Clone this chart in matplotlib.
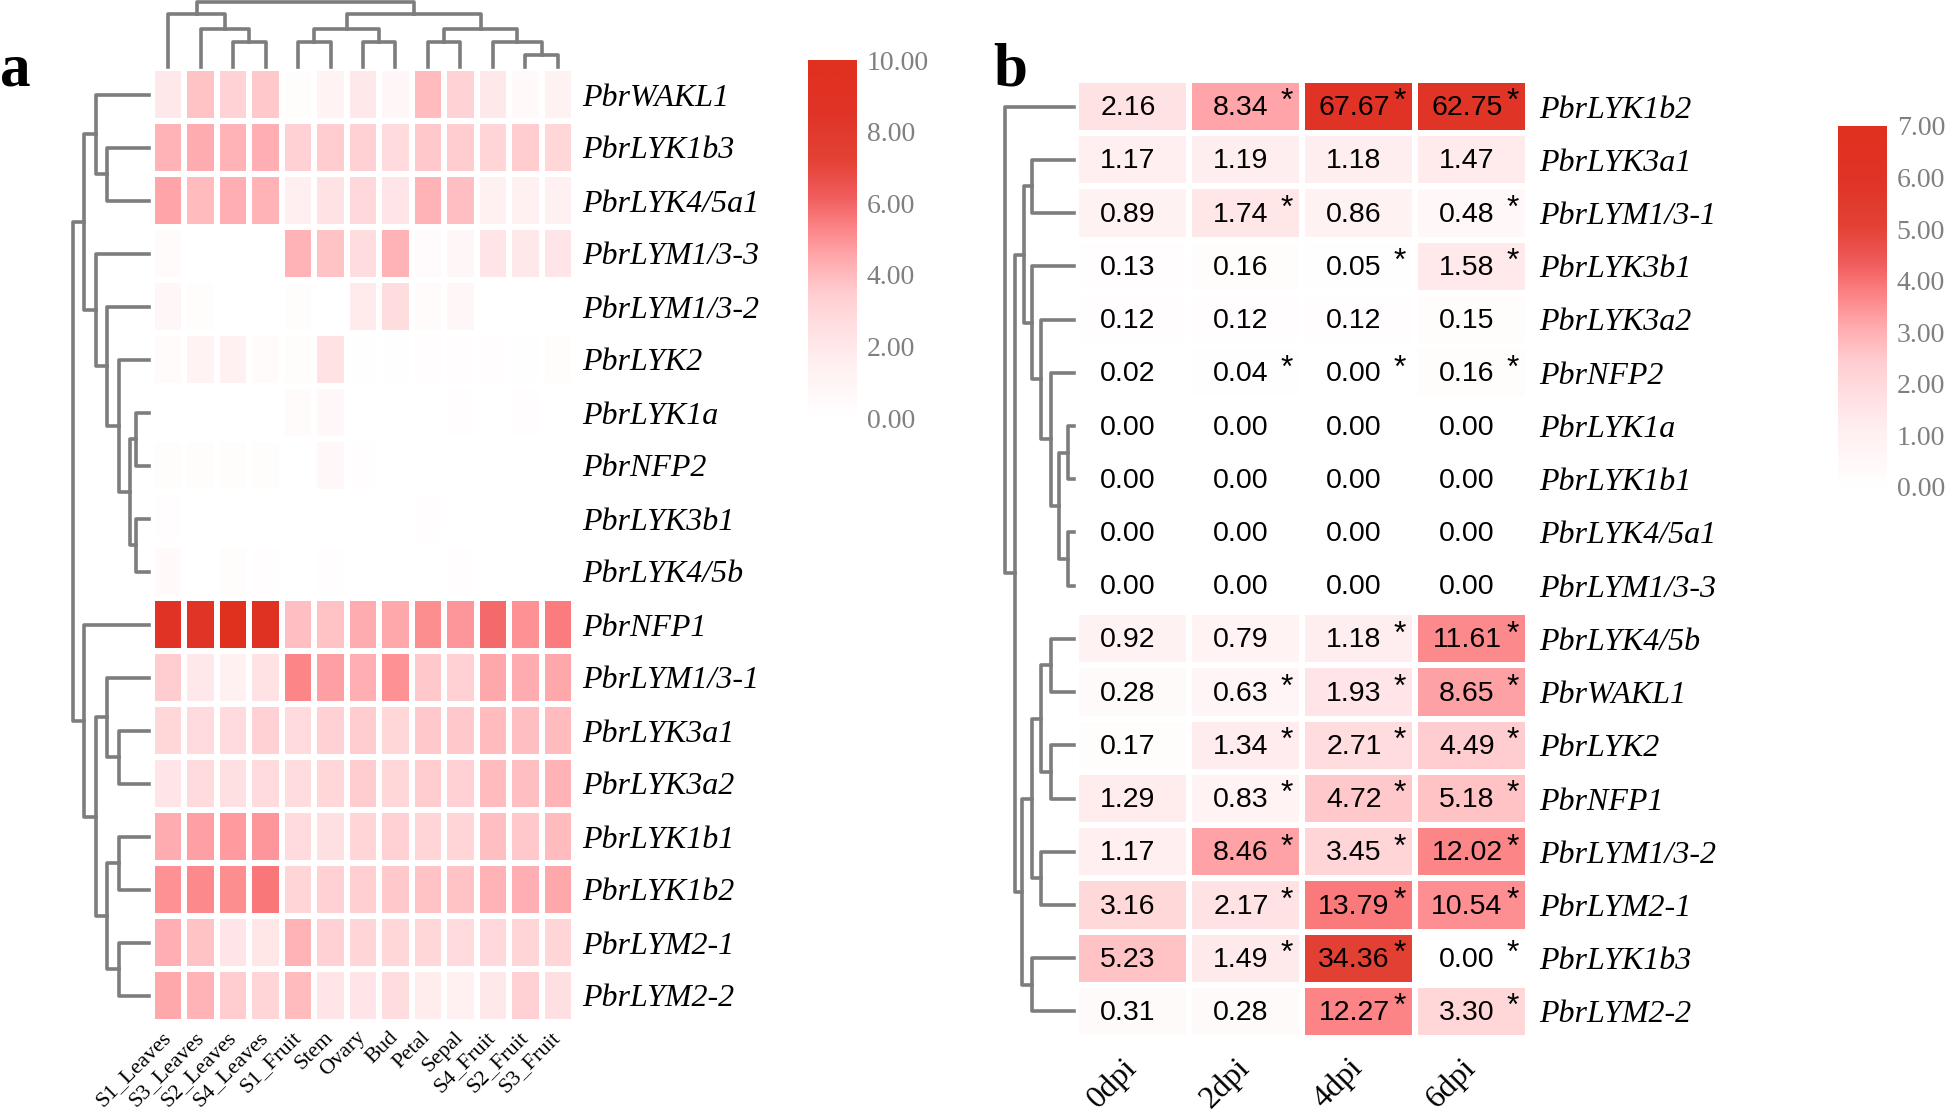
import numpy as np
import matplotlib.pyplot as plt
from matplotlib.colors import LinearSegmentedColormap

SERIF = "Liberation Serif"
SANS = "Liberation Sans"

# ---------------- data: panel a (tissue expression, log2 scale 0-10) ----------------
genes_a = ["PbrWAKL1", "PbrLYK1b3", "PbrLYK4/5a1", "PbrLYM1/3-3", "PbrLYM1/3-2",
           "PbrLYK2", "PbrLYK1a", "PbrNFP2", "PbrLYK3b1", "PbrLYK4/5b",
           "PbrNFP1", "PbrLYM1/3-1", "PbrLYK3a1", "PbrLYK3a2", "PbrLYK1b1",
           "PbrLYK1b2", "PbrLYM2-1", "PbrLYM2-2"]
tissues = ["S1_Leaves", "S3_Leaves", "S2_Leaves", "S4_Leaves", "S1_Fruit", "Stem",
           "Ovary", "Bud", "Petal", "Sepal", "S4_Fruit", "S2_Fruit", "S3_Fruit"]
expr_a = np.array([
    [2.0, 3.8, 3.2, 3.6, 0.3, 1.2, 2.0, 0.9, 4.0, 3.2, 2.0, 0.6, 1.3],
    [4.2, 4.4, 4.2, 4.3, 3.3, 3.5, 3.3, 2.8, 3.6, 3.5, 3.1, 3.5, 3.0],
    [4.6, 4.0, 4.3, 4.2, 1.6, 2.4, 2.9, 2.2, 4.2, 3.9, 1.4, 1.4, 1.4],
    [0.4, 0.0, 0.0, 0.0, 4.2, 3.8, 2.7, 4.2, 0.5, 0.9, 2.2, 2.0, 2.2],
    [0.9, 0.3, 0.0, 0.0, 0.3, 0.0, 1.8, 2.7, 0.4, 0.9, 0.0, 0.0, 0.0],
    [0.4, 1.2, 1.5, 0.4, 0.3, 2.4, 0.1, 0.1, 0.2, 0.2, 0.2, 0.1, 0.3],
    [0.0, 0.0, 0.0, 0.0, 0.4, 0.8, 0.0, 0.0, 0.0, 0.2, 0.0, 0.2, 0.0],
    [0.3, 0.3, 0.3, 0.3, 0.0, 0.8, 0.2, 0.0, 0.0, 0.0, 0.0, 0.0, 0.0],
    [0.2, 0.0, 0.0, 0.0, 0.0, 0.0, 0.0, 0.0, 0.2, 0.0, 0.0, 0.0, 0.0],
    [0.6, 0.0, 0.3, 0.2, 0.0, 0.2, 0.0, 0.0, 0.0, 0.2, 0.0, 0.0, 0.0],
    [9.0, 8.6, 9.8, 9.2, 3.9, 3.8, 4.4, 4.5, 5.1, 4.9, 5.9, 5.0, 5.5],
    [3.5, 2.0, 1.5, 2.4, 5.3, 4.7, 4.3, 5.0, 3.6, 3.3, 4.5, 4.4, 4.5],
    [3.0, 2.8, 2.8, 3.3, 2.8, 3.3, 3.5, 3.0, 3.6, 3.6, 4.0, 3.9, 4.0],
    [2.2, 2.8, 2.5, 2.8, 2.7, 3.0, 3.5, 3.0, 3.5, 3.3, 4.0, 3.9, 4.2],
    [4.4, 4.7, 4.8, 4.9, 2.8, 2.5, 3.1, 3.3, 3.1, 3.1, 3.9, 3.6, 4.0],
    [5.0, 5.2, 5.1, 5.6, 3.1, 3.3, 3.4, 3.6, 3.8, 3.8, 4.2, 4.3, 4.5],
    [4.3, 3.8, 2.2, 2.1, 4.2, 3.3, 3.1, 3.0, 3.0, 2.8, 2.9, 3.1, 3.1],
    [4.5, 4.2, 3.5, 3.1, 4.0, 2.2, 2.2, 2.7, 1.7, 1.4, 2.0, 3.3, 2.5],
])
# dendrograms as (left, right, height); ints are leaves
rows_tree_a = (((0, (1, 2, 110), 140),
                (3, (4, (5, ((6, 7, 35), (8, 9, 35), 50), 80), 110), 140), 170),
               (10, ((11, (12, 13, 80), 110), ((14, 15, 80), (16, 17, 80), 110), 140), 170),
               200)
cols_tree_a = ((0, (1, (2, 3, 75), 115), 158),
               (((4, 5, 75), (6, 7, 75), 115), ((8, 9, 75), (10, (11, 12, 35), 75), 115), 158),
               195)

# ---------------- data: panel b (relative expression after inoculation) ----------------
genes_b = ["PbrLYK1b2", "PbrLYK3a1", "PbrLYM1/3-1", "PbrLYK3b1", "PbrLYK3a2", "PbrNFP2",
           "PbrLYK1a", "PbrLYK1b1", "PbrLYK4/5a1", "PbrLYM1/3-3", "PbrLYK4/5b", "PbrWAKL1",
           "PbrLYK2", "PbrNFP1", "PbrLYM1/3-2", "PbrLYM2-1", "PbrLYK1b3", "PbrLYM2-2"]
dpi_labels = ["0dpi", "2dpi", "4dpi", "6dpi"]
expr_b = np.array([
    [2.16, 8.34, 67.67, 62.75],
    [1.17, 1.19, 1.18, 1.47],
    [0.89, 1.74, 0.86, 0.48],
    [0.13, 0.16, 0.05, 1.58],
    [0.12, 0.12, 0.12, 0.15],
    [0.02, 0.04, 0.00, 0.16],
    [0.00, 0.00, 0.00, 0.00],
    [0.00, 0.00, 0.00, 0.00],
    [0.00, 0.00, 0.00, 0.00],
    [0.00, 0.00, 0.00, 0.00],
    [0.92, 0.79, 1.18, 11.61],
    [0.28, 0.63, 1.93, 8.65],
    [0.17, 1.34, 2.71, 4.49],
    [1.29, 0.83, 4.72, 5.18],
    [1.17, 8.46, 3.45, 12.02],
    [3.16, 2.17, 13.79, 10.54],
    [5.23, 1.49, 34.36, 0.00],
    [0.31, 0.28, 12.27, 3.30],
])
signif_b = np.array([
    [0, 1, 1, 1], [0, 0, 0, 0], [0, 1, 0, 1], [0, 0, 1, 1], [0, 0, 0, 0], [0, 1, 1, 1],
    [0, 0, 0, 0], [0, 0, 0, 0], [0, 0, 0, 0], [0, 0, 0, 0], [0, 0, 1, 1], [0, 1, 1, 1],
    [0, 1, 1, 1], [0, 1, 1, 1], [0, 1, 1, 1], [0, 1, 1, 1], [0, 1, 1, 1], [0, 0, 1, 1],
])
rows_tree_b = (0,
               (((1, 2, 110), (3, (4, (5, ((6, 7, 15), (8, 9, 15), 40), 60), 85), 110), 130),
                ((((10, 11, 60), (12, 13, 60), 85), (14, 15, 85), 110), (16, 17, 110), 135),
                155),
               180)

# ---------------- figure ----------------
W, H = 1946, 1111
fig = plt.figure(figsize=(W / 100, H / 100), dpi=100)


def rect(x0, y0, x1, y1):
    # pixel box (top-left origin) -> figure fraction
    return [x0 / W, 1 - y1 / H, (x1 - x0) / W, (y1 - y0) / H]


cmap = LinearSegmentedColormap.from_list("wr", [
    (0.0, "#ffffff"), (0.15, "#fff0f1"), (0.25, "#ffe0e2"), (0.35, "#ffcdd0"),
    (0.45, "#ffa8ac"), (0.55, "#fb7c7e"), (0.62, "#f05c5c"), (0.72, "#e44236"),
    (0.85, "#e03428"), (1.0, "#e0301e")])
LINE = "#7d7d7d"


def draw_tree(ax, node, left_side):
    if isinstance(node, int):
        return node + 0.5, 0.0
    l, r, h = node
    pl, hl = draw_tree(ax, l, left_side)
    pr, hr = draw_tree(ax, r, left_side)
    hs = [hl, h, h, hr]
    ps = [pl, pl, pr, pr]
    if left_side:
        ax.plot(hs, ps, color=LINE, lw=2.6, solid_capstyle="projecting", clip_on=False)
    else:
        ax.plot(ps, hs, color=LINE, lw=2.6, solid_capstyle="projecting", clip_on=False)
    return (pl + pr) / 2, h


def clean(ax):
    for s in ax.spines.values():
        s.set_visible(False)
    ax.set_xticks([])
    ax.set_yticks([])


# ----- panel a heatmap -----
ax_a = fig.add_axes(rect(152, 68, 574, 1022))
ax_a.pcolormesh(np.arange(len(tissues) + 1), np.arange(len(genes_a) + 1), expr_a,
                cmap=cmap, vmin=0, vmax=10, edgecolors="white", linewidth=3)
ax_a.set_xlim(0, len(tissues))
ax_a.set_ylim(len(genes_a), 0)
clean(ax_a)
ax_a.yaxis.tick_right()
ax_a.set_yticks(np.arange(len(genes_a)) + 0.5)
ax_a.set_yticklabels(genes_a, family=SERIF, style="italic", fontsize=23)
ax_a.set_xticks(np.arange(len(tissues)) + 0.5)
ax_a.set_xticklabels(tissues, family=SERIF, fontsize=16, rotation=45, ha="right",
                     va="center", rotation_mode="anchor")
ax_a.tick_params(length=0, pad=6)
ax_a.tick_params(axis="x", pad=9)

ax_da = fig.add_axes(rect(73, 68, 149, 1022))
draw_tree(ax_da, rows_tree_a, True)
ax_da.set_xlim(200, 0)
ax_da.set_ylim(len(genes_a), 0)
clean(ax_da)

ax_ta = fig.add_axes(rect(152, 2, 574, 67))
draw_tree(ax_ta, cols_tree_a, False)
ax_ta.set_xlim(0, len(tissues))
ax_ta.set_ylim(0, 195)
clean(ax_ta)

# colorbar a
cb_a = fig.add_axes(rect(808, 60, 857, 418))
cb_a.imshow(np.linspace(10, 0, 256)[:, None], aspect="auto", cmap=cmap, vmin=0, vmax=10,
            extent=(0, 1, 0, 10))
clean(cb_a)
cb_a.yaxis.tick_right()
cb_a.set_yticks(np.arange(0, 11, 2))
cb_a.set_yticklabels([f"{v:.2f}" for v in np.arange(0, 11, 2)], family=SERIF,
                     fontsize=20, color="#808080")
cb_a.tick_params(length=0, pad=7)

# ----- panel b heatmap -----
logb = np.log2(expr_b + 1)
ax_b = fig.add_axes(rect(1076, 80, 1528, 1038))
ax_b.pcolormesh(np.arange(len(dpi_labels) + 1), np.arange(len(genes_b) + 1), logb,
                cmap=cmap, vmin=0, vmax=7, edgecolors="white", linewidth=3)
ax_b.set_xlim(0, len(dpi_labels))
ax_b.set_ylim(len(genes_b), 0)
clean(ax_b)
for i in range(len(genes_b)):
    for j in range(len(dpi_labels)):
        ax_b.text(j + 0.46, i + 0.53, f"{expr_b[i, j]:.2f}", ha="center", va="center",
                  family=SANS, fontsize=20.5)
        if signif_b[i, j]:
            ax_b.text(j + 0.865, i + 0.42, "*", ha="center", va="center",
                      family=SANS, fontsize=23)
ax_b.yaxis.tick_right()
ax_b.set_yticks(np.arange(len(genes_b)) + 0.5)
ax_b.set_yticklabels(genes_b, family=SERIF, style="italic", fontsize=23)
ax_b.set_xticks(np.arange(len(dpi_labels)) + 0.5)
ax_b.set_xticklabels(dpi_labels, family=SERIF, fontsize=23, rotation=45, ha="right",
                     va="center", rotation_mode="anchor")
ax_b.tick_params(length=0, pad=8)
ax_b.tick_params(axis="x", pad=18)

ax_db = fig.add_axes(rect(1005, 80, 1074, 1038))
draw_tree(ax_db, rows_tree_b, True)
ax_db.set_xlim(180, 0)
ax_db.set_ylim(len(genes_b), 0)
clean(ax_db)

cb_b = fig.add_axes(rect(1838, 126, 1887, 487))
cb_b.imshow(np.linspace(7, 0, 256)[:, None], aspect="auto", cmap=cmap, vmin=0, vmax=7,
            extent=(0, 1, 0, 7))
clean(cb_b)
cb_b.yaxis.tick_right()
cb_b.set_yticks(np.arange(0, 8))
cb_b.set_yticklabels([f"{v:.2f}" for v in np.arange(0, 8)], family=SERIF,
                     fontsize=20, color="#808080")
cb_b.tick_params(length=0, pad=7)

# panel letters
fig.text(0 / W, 1 - 85 / H, "a", family=SERIF, weight="bold", fontsize=44, va="baseline")
fig.text(993 / W, 1 - 86 / H, "b", family=SERIF, weight="bold", fontsize=44, va="baseline")

fig.savefig("out.png", dpi=100)
